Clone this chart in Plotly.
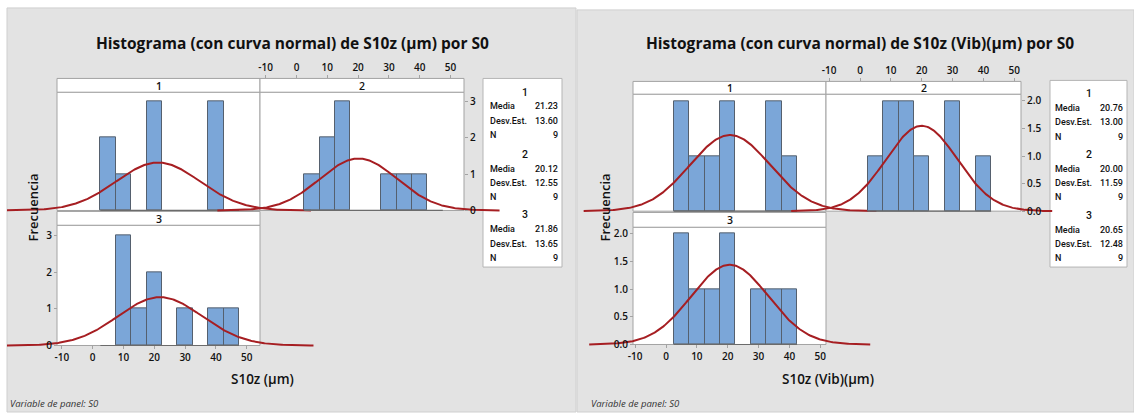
import numpy as np
import plotly.graph_objects as go

W, H = 1134, 414

# ---------------- data ----------------
BIN_WIDTH = 5
LEFT_BINS = [5, 10, 15, 20, 25, 30, 35, 40, 45]
LEFT_P1 = [2, 1, 0, 3, 0, 0, 0, 3, 0]
LEFT_P2 = [1, 2, 3, 0, 0, 1, 1, 1, 0]
LEFT_P3 = [0, 3, 1, 2, 0, 1, 0, 1, 1]
RIGHT_BINS = [5, 10, 15, 20, 25, 30, 35, 40]
RIGHT_P1 = [2, 1, 1, 2, 0, 0, 2, 1]
RIGHT_P2 = [1, 2, 2, 1, 0, 2, 0, 1]
RIGHT_P3 = [2, 1, 1, 2, 0, 1, 1, 1]
LEFT_MEAN = [21.23, 20.12, 21.86]
LEFT_SD = [13.60, 12.55, 13.65]
RIGHT_MEAN = [20.76, 20.00, 20.65]
RIGHT_SD = [13.00, 11.59, 12.48]
N_OBS = [9, 9, 9]
PANELS = ["1", "2", "3"]
X_TICKS = [-10, 0, 10, 20, 30, 40, 50]
X_TICK_TEXT = ["-10", "0", "10", "20", "30", "40", "50"]
LEFT_Y_TICKS = [0, 1, 2, 3]
LEFT_Y_TEXT = ["0", "1", "2", "3"]
RIGHT_Y_TICKS = [0, 0.5, 1, 1.5, 2]
RIGHT_Y_TEXT = ["0.0", "0.5", "1.0", "1.5", "2.0"]
LEFT_TITLE = "Histograma (con curva normal) de S10z (µm) por S0"
RIGHT_TITLE = "Histograma (con curva normal) de S10z (Vib)(µm) por S0"
LEFT_XTITLE = "S10z (µm)"
RIGHT_XTITLE = "S10z (Vib)(µm)"
Y_TITLE = "Frecuencia"
FOOT = "Variable de panel: S0"
STAT_LABELS = ["Media", "Desv.Est.", "N"]

# ---------------- style ----------------
BG = "#e3e3e3"
FRAME = "#a3a3a3"
BAR_FILL = "#7ba6d8"
BAR_LINE = "#55606e"
CURVE = "#a61e22"
FONT = "Open Sans"
STAT_FONT = "Roboto"
TXT = "#111111"

fig = go.Figure()
shapes, annotations = [], []


def fx(x):
    return x / W


def fy(y):
    return 1 - y / H


def rect(x0, y0, x1, y1, fill, line, lw=1):
    shapes.append(dict(type="rect", xref="paper", yref="paper", layer="below",
                       x0=fx(x0), x1=fx(x1), y0=fy(y1), y1=fy(y0),
                       fillcolor=fill, line=dict(color=line, width=lw)))


def text(x, y, s, size=10, xanchor="center", weight=600, style="normal",
         angle=0, color=TXT, family=FONT):
    annotations.append(dict(xref="paper", yref="paper", x=fx(x), y=fy(y), text=s,
                            showarrow=False, xanchor=xanchor, yanchor="middle",
                            textangle=angle, borderpad=0,
                            font=dict(family=family, size=size, color=color,
                                      weight=weight, style=style)))


CHARTS = [
    dict(box=(7, 7, 576, 414), bins=LEFT_BINS, counts=[LEFT_P1, LEFT_P2, LEFT_P3],
         mean=LEFT_MEAN, sd=LEFT_SD, cols=[(57, 260), (260, 464)],
         zero=[92.7, 296.5], scale=3.08,
         top_head=(78, 92), top_zero=211, top_s=36.6,
         bot_head=(212, 226), bot_zero=347, bot_s=37.0,
         yt=LEFT_Y_TICKS, ytt=LEFT_Y_TEXT,
         stat_box=(483, 78, 562, 268), stat_lx=489, stat_rx=559, stat_cx=525,
         stat_y=[91.7, 154.3, 215.5],
         title=LEFT_TITLE, title_x=292, xtitle=LEFT_XTITLE, xtitle_x=262,
         ytitle_x=33, foot_x=9),
    dict(box=(577, 9, 1134, 414), bins=RIGHT_BINS, counts=[RIGHT_P1, RIGHT_P2, RIGHT_P3],
         mean=RIGHT_MEAN, sd=RIGHT_SD, cols=[(633, 826), (826, 1021)],
         zero=[666.0, 860.0], scale=3.085,
         top_head=(81, 94), top_zero=211.7, top_s=55.5,
         bot_head=(213, 228), bot_zero=346, bot_s=55.8,
         yt=RIGHT_Y_TICKS, ytt=RIGHT_Y_TEXT,
         stat_box=(1050, 80, 1127, 268), stat_lx=1054, stat_rx=1124, stat_cx=1089,
         stat_y=[93.3, 154.3, 215.7],
         title=RIGHT_TITLE, title_x=860, xtitle=RIGHT_XTITLE, xtitle_x=828,
         ytitle_x=605, foot_x=590),
]

tick_font = dict(family=FONT, size=10, color=TXT, weight=600)
ax_id = 0
for c in CHARTS:
    bx0, by0, bx1, by1 = c["box"]
    rect(bx0, by0, bx1, by1, BG, "#cfcfcf", 1)
    # stats box
    sx0, sy0, sx1, sy1 = c["stat_box"]
    rect(sx0, sy0, sx1, sy1, "white", "#b5b5b5", 1)
    for k in range(3):
        ys = c["stat_y"][k]
        text(c["stat_cx"], ys, PANELS[k], size=10.5, weight=500, family=STAT_FONT)
        vals = [f"{c['mean'][k]:.2f}", f"{c['sd'][k]:.2f}", f"{N_OBS[k]}"]
        for j, (lab, val) in enumerate(zip(STAT_LABELS, vals)):
            yy = ys + 14.5 * (j + 1)
            text(c["stat_lx"], yy, lab, size=9, xanchor="left", weight=500,
                 family=STAT_FONT)
            text(c["stat_rx"], yy, val, size=9, xanchor="right", weight=500,
                 family=STAT_FONT)
    # titles
    text(c["title_x"], 42, c["title"], size=15.5, weight=700)
    text(c["xtitle_x"], 381, c["xtitle"], size=13.5, weight=600)
    text(c["ytitle_x"], 208, Y_TITLE, size=13, weight=600, angle=-90)
    text(c["foot_x"], 405, FOOT, size=9.5, xanchor="left", weight=400,
         style="italic", color="#333333")

    centers = c["bins"]
    edges = [centers[0] - BIN_WIDTH / 2, centers[-1] + BIN_WIDTH / 2]
    for k in range(3):
        ax_id += 1
        col = 0 if k in (0, 2) else 1
        top = k < 2
        cx0, cx1 = c["cols"][col]
        head = c["top_head"] if top else c["bot_head"]
        zero_y = c["top_zero"] if top else c["bot_zero"]
        ys = c["top_s"] if top else c["bot_s"]
        # panel decorations (strip + plot area)
        rect(cx0, head[0], cx1, head[1], "white", FRAME, 1)
        rect(cx0, head[1], cx1, zero_y, "white", FRAME, 1)
        text((cx0 + cx1) / 2, (head[0] + head[1]) / 2 + 0.5, PANELS[k], size=10.5)

        # axes mapping: domain spans the whole chart so curves are not clipped
        z0 = c["zero"][col]
        sc = c["scale"]
        xr = [(bx0 - z0) / sc, (bx1 - z0) / sc]
        ybot = zero_y + 5
        yr = [(zero_y - ybot) / ys, (zero_y - head[1]) / ys]
        xa = dict(domain=[fx(bx0), fx(bx1)], range=xr, showgrid=False, zeroline=False,
                  showline=False, fixedrange=True)
        ya = dict(domain=[fy(ybot), fy(head[1])], range=yr, showgrid=False,
                  zeroline=False, showline=False, fixedrange=True)
        if k == 1:  # top x axis + right y axis
            xa.update(anchor="free", position=fy(head[0]), side="top", tickmode="array",
                      tickvals=X_TICKS, ticktext=X_TICK_TEXT, ticks="outside",
                      ticklen=3, tickcolor=FRAME, tickfont=tick_font)
            ya.update(anchor="free", position=fx(cx1), side="right", tickmode="array",
                      tickvals=c["yt"], ticktext=c["ytt"], ticks="outside", ticklen=3,
                      tickcolor=FRAME, tickfont=tick_font)
        elif k == 2:  # bottom x axis + left y axis
            xa.update(anchor="free", position=fy(zero_y), side="bottom", tickmode="array",
                      tickvals=X_TICKS, ticktext=X_TICK_TEXT, ticks="outside",
                      ticklen=3, tickcolor=FRAME, tickfont=tick_font)
            ya.update(anchor="free", position=fx(cx0), side="left", tickmode="array",
                      tickvals=c["yt"], ticktext=c["ytt"], ticks="outside", ticklen=3,
                      tickcolor=FRAME, tickfont=tick_font)
        else:
            xa.update(showticklabels=False, ticks="")
            ya.update(showticklabels=False, ticks="")
        if ax_id == 1:
            xa.setdefault("anchor", "y")
            ya.setdefault("anchor", "x")
        else:
            xa.setdefault("anchor", f"y{ax_id}")
            ya.setdefault("anchor", f"x{ax_id}")
        xname = "xaxis" if ax_id == 1 else f"xaxis{ax_id}"
        yname = "yaxis" if ax_id == 1 else f"yaxis{ax_id}"
        fig.layout[xname] = xa
        fig.layout[yname] = ya
        xref = "x" if ax_id == 1 else f"x{ax_id}"
        yref = "y" if ax_id == 1 else f"y{ax_id}"

        # baseline of histogram
        fig.add_trace(go.Scatter(x=edges, y=[0, 0], mode="lines",
                                 line=dict(color="#6b6b6b", width=1.2),
                                 xaxis=xref, yaxis=yref, showlegend=False,
                                 hoverinfo="skip"))
        cnt = c["counts"][k]
        bx = [b for b, v in zip(centers, cnt) if v > 0]
        by = [v for v in cnt if v > 0]
        fig.add_trace(go.Bar(x=bx, y=by, width=BIN_WIDTH,
                             marker=dict(color=BAR_FILL, line=dict(color=BAR_LINE, width=1)),
                             xaxis=xref, yaxis=yref, showlegend=False))
        m, s = c["mean"][k], c["sd"][k]
        xs = np.linspace(m - 3.65 * s, m + 3.65 * s, 300)
        yc = N_OBS[k] * BIN_WIDTH * np.exp(-0.5 * ((xs - m) / s) ** 2) / (s * np.sqrt(2 * np.pi))
        fig.add_trace(go.Scatter(x=xs, y=yc, mode="lines",
                                 line=dict(color=CURVE, width=2),
                                 xaxis=xref, yaxis=yref, showlegend=False,
                                 hoverinfo="skip"))

fig.update_layout(width=W, height=H, margin=dict(l=0, r=0, t=0, b=0),
                  paper_bgcolor="white", plot_bgcolor="rgba(0,0,0,0)",
                  shapes=shapes, annotations=annotations, showlegend=False,
                  bargap=0, font=dict(family=FONT, color=TXT))

fig.write_html("out.html")
